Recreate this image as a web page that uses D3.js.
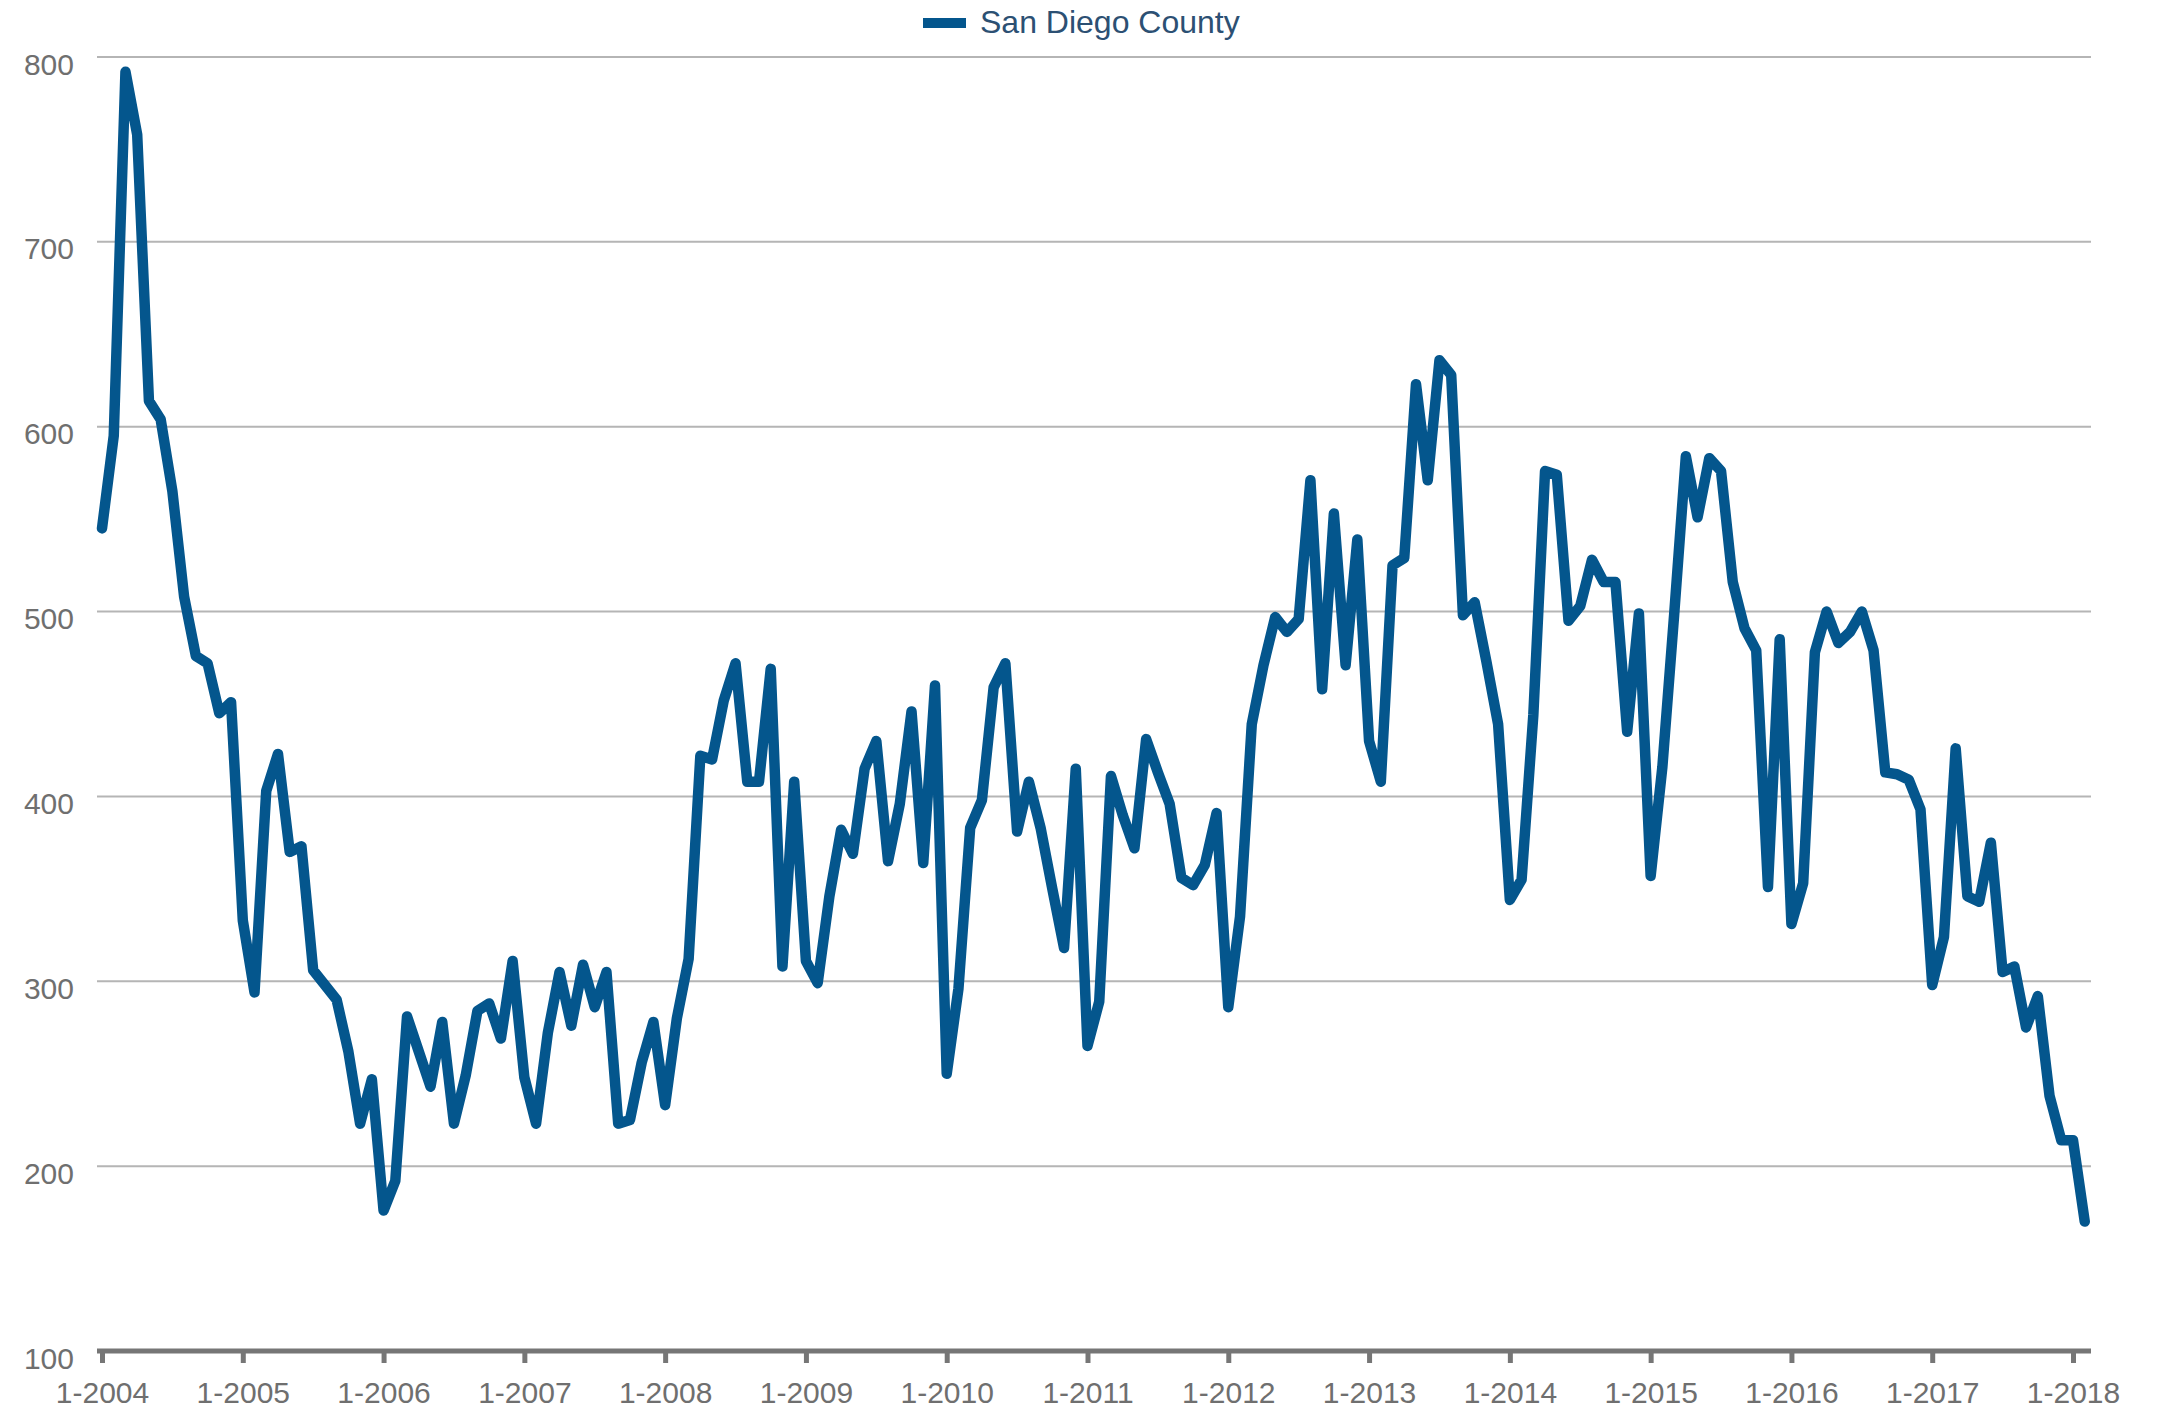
<!DOCTYPE html>
<html>
<head>
<meta charset="utf-8">
<script src="https://cdn.jsdelivr.net/npm/d3@7"></script>
<style>
  body { margin: 0; background: #fff; }
  text { font-family: "Liberation Sans", Arial, sans-serif; }
</style>
</head>
<body>
<div id="chart"></div>
<script>
// series name
var seriesName = "San Diego County";

// monthly values, one array per year (jan..dec)
var v2004 = [545, 595, 792, 758, 614, 604, 565, 508, 476, 472, 445, 451];
var v2005 = [333, 294, 403, 423, 370, 373, 306, 298, 290, 262, 223, 247];
var v2006 = [176, 192, 281, 262, 243, 278, 223, 249, 284, 288, 269, 311];
var v2007 = [248, 223, 272, 305, 276, 309, 286, 305, 223, 225, 256, 278];
var v2008 = [233, 280, 312, 422, 420, 452, 472, 408, 408, 469, 308, 408];
var v2009 = [311, 299, 346, 382, 369, 415, 430, 365, 396, 446, 364, 460];
var v2010 = [250, 296, 383, 398, 459, 472, 381, 408, 383, 350, 318, 415];
var v2011 = [265, 289, 411, 390, 372, 431, 413, 396, 356, 352, 363, 391];
var v2012 = [286, 335, 439, 471, 497, 489, 496, 571, 458, 553, 471, 539];
var v2013 = [430, 408, 525, 529, 623, 571, 636, 628, 498, 505, 473, 439];
var v2014 = [344, 355, 444, 576, 574, 495, 503, 528, 516, 516, 435, 499];
var v2015 = [357, 416, 498, 584, 551, 583, 576, 516, 491, 479, 351, 485];
var v2016 = [331, 353, 478, 500, 483, 489, 500, 479, 413, 412, 409, 393];
var v2017 = [298, 324, 426, 346, 343, 375, 305, 308, 275, 292, 238, 214];
var v2018 = [214, 170];

// x tick labels (january of each year)
var tickYears = [2004, 2005, 2006, 2007, 2008, 2009, 2010, 2011, 2012, 2013, 2014, 2015, 2016, 2017, 2018];

// y ticks
var yTicks = [100, 200, 300, 400, 500, 600, 700, 800];

var values = [].concat(v2004, v2005, v2006, v2007, v2008, v2009, v2010, v2011,
                       v2012, v2013, v2014, v2015, v2016, v2017, v2018);
var data = values.map(function(v, i) { return { idx: i, value: v }; });

var width = 2157,
    height = 1410;

// month index -> pixel
var x = d3.scaleLinear().domain([0, 168]).range([102, 2073]);
var y = d3.scaleLinear().domain([100, 800]).range([1351, 57]);

var svg = d3.select("#chart").append("svg")
    .attr("width", width)
    .attr("height", height);

// gridlines
svg.append("g")
  .attr("class", "grid")
  .selectAll("line")
  .data(yTicks.filter(function(d) { return d > 100; }))
  .enter().append("line")
  .attr("x1", 97)
  .attr("x2", 2091)
  .attr("y1", function(d) { return y(d); })
  .attr("y2", function(d) { return y(d); })
  .style("stroke", "#b5b5b5")
  .style("stroke-width", "2px");

// y axis labels
var yAxis = d3.axisLeft(y).tickValues(yTicks).tickSize(0).tickPadding(0);
var yg = svg.append("g")
  .attr("class", "yaxis")
  .attr("transform", "translate(74,0)")
  .call(yAxis);
yg.select(".domain").remove();
yg.selectAll("text")
  .attr("dy", "0.5em")
  .attr("y", 2)
  .style("font-size", "30px")
  .style("fill", "#6f6f6f");

// x axis
var xAxis = d3.axisBottom(x)
  .tickValues(tickYears.map(function(yr) { return (yr - 2004) * 12; }))
  .tickFormat(function(d) { return "1-" + (2004 + d / 12); })
  .tickSize(12)
  .tickPadding(19)
  .tickSizeOuter(0);
var xg = svg.append("g")
  .attr("class", "xaxis")
  .attr("transform", "translate(0," + y(100) + ")")
  .call(xAxis);
xg.select(".domain")
  .attr("d", "M97,0H2091")
  .style("stroke", "#767676")
  .style("stroke-width", "5px");
xg.selectAll(".tick line")
  .style("stroke", "#767676")
  .style("stroke-width", "5px");
xg.selectAll("text")
  .style("font-size", "30px")
  .style("fill", "#6f6f6f");

// the line
var line = d3.line()
  .x(function(d) { return x(d.idx); })
  .y(function(d) { return y(d.value); });

svg.append("path")
  .datum(data)
  .attr("class", "line")
  .attr("d", line)
  .style("fill", "none")
  .style("stroke", "#04568d")
  .style("stroke-width", "10.5px")
  .style("stroke-linejoin", "round")
  .style("stroke-linecap", "round");

// legend
var legend = svg.append("g").attr("class", "legend");
legend.append("rect")
  .attr("x", 923)
  .attr("y", 18)
  .attr("width", 43)
  .attr("height", 10)
  .style("fill", "#04568d");
legend.append("text")
  .attr("x", 980)
  .attr("y", 33)
  .style("font-size", "32px")
  .style("fill", "#2c5073")
  .text(seriesName);
</script>
</body>
</html>
